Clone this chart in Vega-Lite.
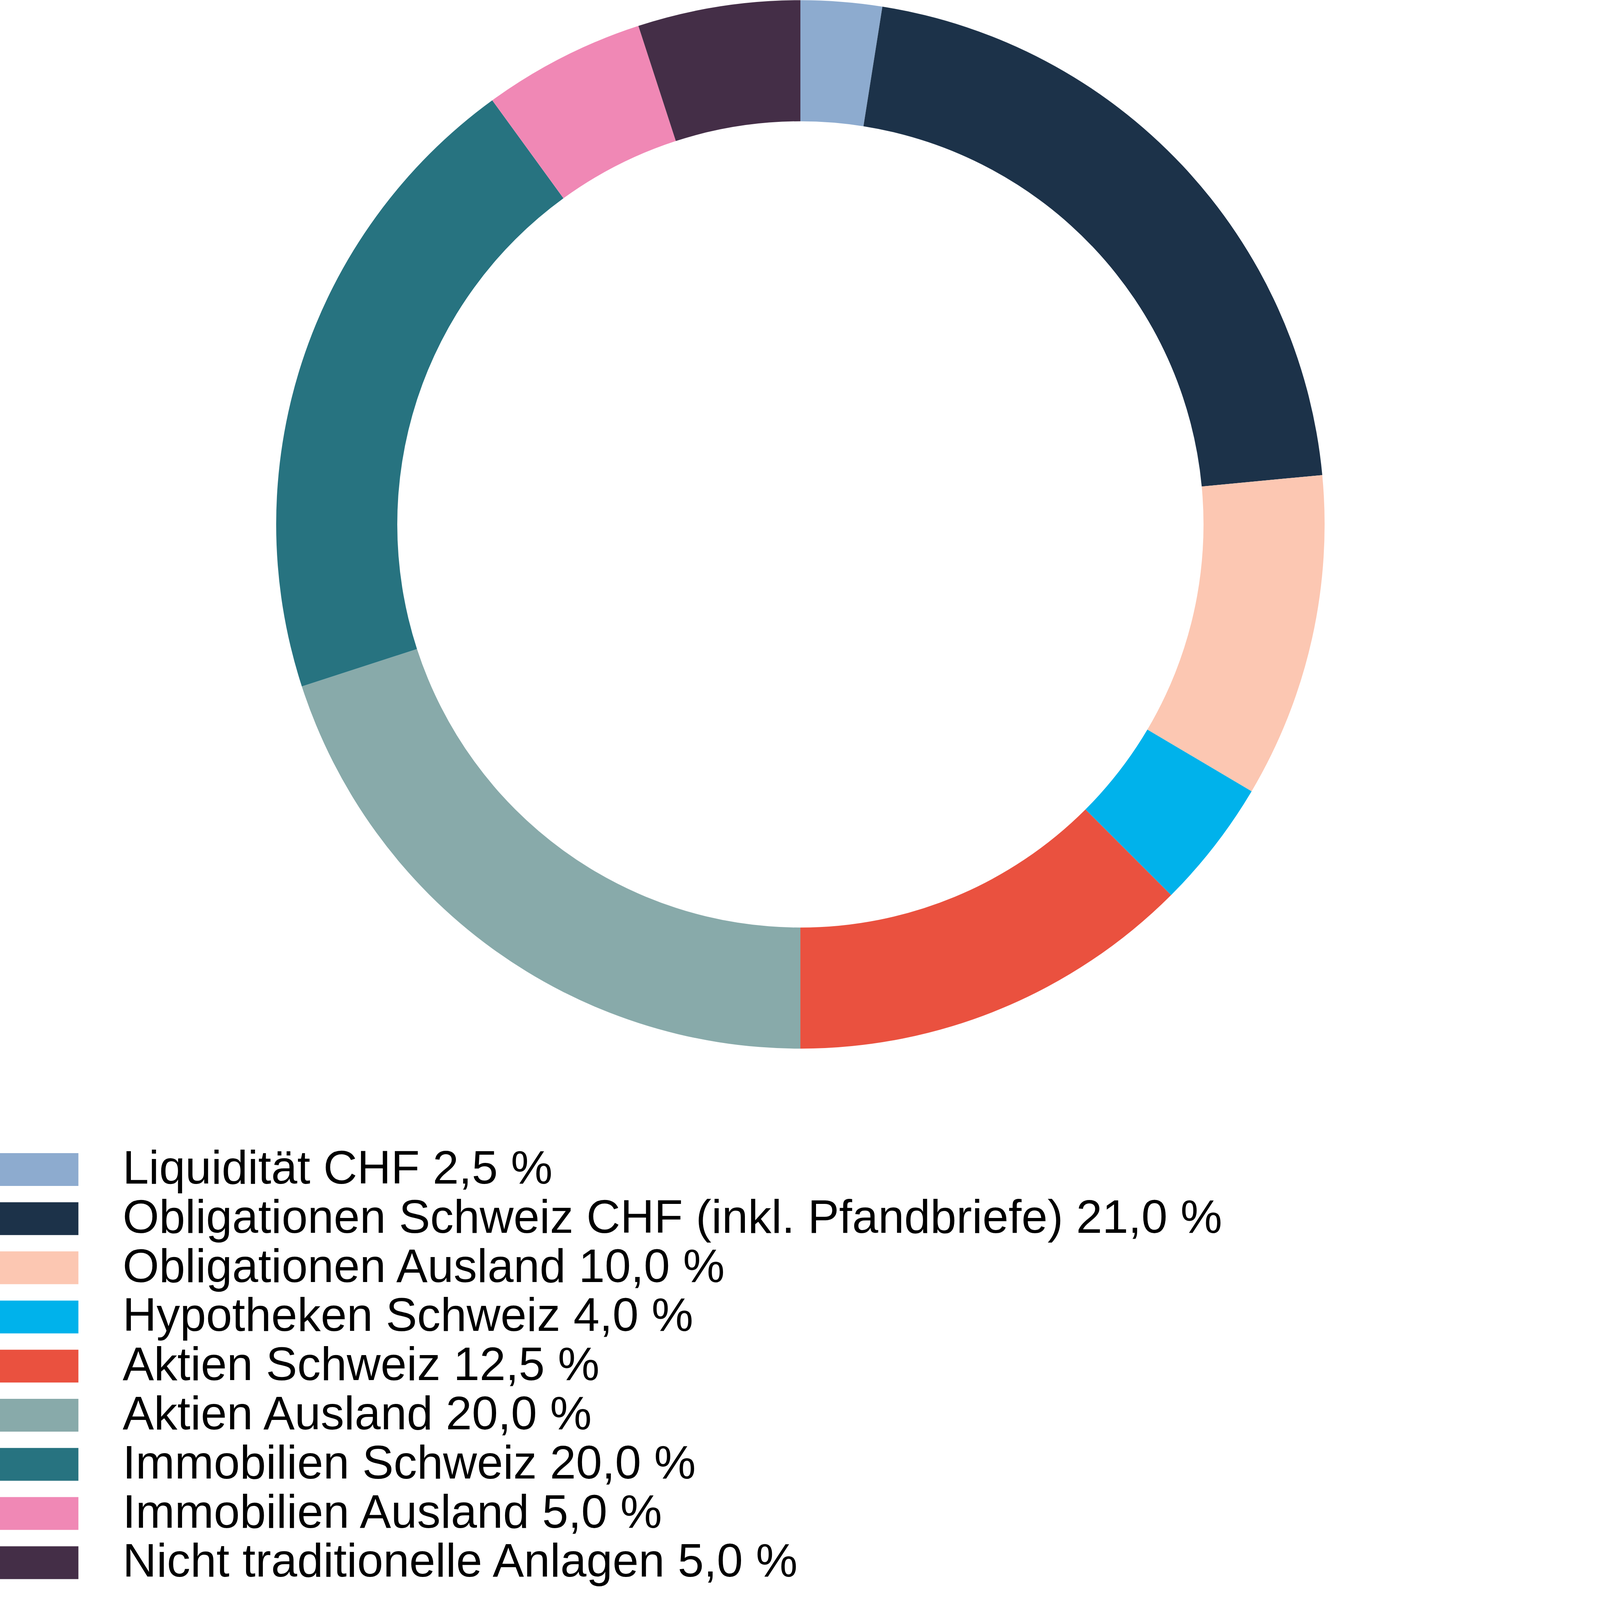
{
  "$schema": "https://vega.github.io/schema/vega-lite/v6.json",
  "width": 4098,
  "height": 2685,
  "padding": 0,
  "background": "white",
  "config": {"view": {"stroke": null}},
  "data": {
    "values": [
      {"kategorie": "Liquidität CHF 2,5 %", "anteil": 2.5, "reihe": 1},
      {"kategorie": "Obligationen Schweiz CHF (inkl. Pfandbriefe) 21,0 %", "anteil": 21.0, "reihe": 2},
      {"kategorie": "Obligationen Ausland 10,0 %", "anteil": 10.0, "reihe": 3},
      {"kategorie": "Hypotheken Schweiz 4,0 %", "anteil": 4.0, "reihe": 4},
      {"kategorie": "Aktien Schweiz 12,5 %", "anteil": 12.5, "reihe": 5},
      {"kategorie": "Aktien Ausland 20,0 %", "anteil": 20.0, "reihe": 6},
      {"kategorie": "Immobilien Schweiz 20,0 %", "anteil": 20.0, "reihe": 7},
      {"kategorie": "Immobilien Ausland 5,0 %", "anteil": 5.0, "reihe": 8},
      {"kategorie": "Nicht traditionelle Anlagen 5,0 %", "anteil": 5.0, "reihe": 9}
    ]
  },
  "mark": {"type": "arc", "innerRadius": 1032, "outerRadius": 1342, "stroke": null},
  "encoding": {
    "theta": {"field": "anteil", "type": "quantitative", "stack": true},
    "order": {"field": "reihe", "type": "quantitative"},
    "color": {
      "field": "kategorie",
      "type": "nominal",
      "scale": {
        "domain": [
          "Liquidität CHF 2,5 %",
          "Obligationen Schweiz CHF (inkl. Pfandbriefe) 21,0 %",
          "Obligationen Ausland 10,0 %",
          "Hypotheken Schweiz 4,0 %",
          "Aktien Schweiz 12,5 %",
          "Aktien Ausland 20,0 %",
          "Immobilien Schweiz 20,0 %",
          "Immobilien Ausland 5,0 %",
          "Nicht traditionelle Anlagen 5,0 %"
        ],
        "range": ["#8DABCF", "#1C3249", "#FCC7B2", "#00B2EB", "#EA513F", "#88AAAA", "#277380", "#F088B5", "#442E47"]
      },
      "legend": {
        "title": null,
        "orient": "bottom",
        "offset": 249,
        "direction": "vertical",
        "columns": 1,
        "padding": 0,
        "symbolType": "M-1,-0.7H2.345V0.7H-1Z",
        "symbolSize": 14400,
        "symbolStrokeWidth": 0,
        "symbolOpacity": 1,
        "symbolOffset": 0,
        "labelOffset": 194,
        "labelFont": "Liberation Sans",
        "labelFontSize": 120,
        "labelColor": "#000000",
        "labelLimit": 0,
        "labelBaseline": "middle",
        "rowPadding": 5.8
      }
    }
  }
}
